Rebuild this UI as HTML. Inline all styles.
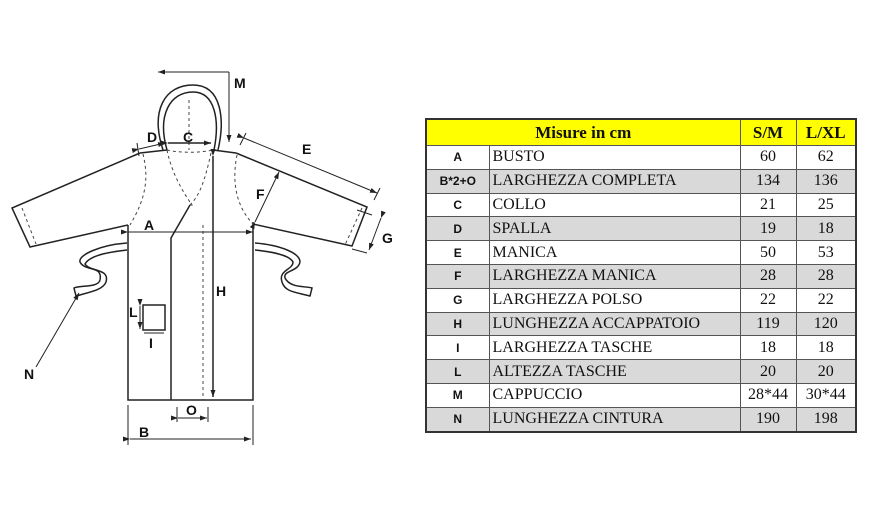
<!DOCTYPE html>
<html><head><meta charset="utf-8"><style>
body{margin:0;background:#fff;width:870px;height:524px;position:relative;overflow:hidden}
svg{position:absolute;left:0;top:0}
table{position:absolute;left:425px;top:118px;border-collapse:collapse;border:2px solid #333;font-family:"Liberation Serif",serif;font-size:16px;color:#111}
td{border:1px solid #555;height:22.8px;padding:0;line-height:22px}
td.c{text-align:center}
td.k{font-family:"Liberation Sans",sans-serif;font-weight:bold;font-size:12px;text-align:center}
td.n{padding-left:3px}
tr.g td{background:#d9d9d9}
tr.h td{background:#ffff00;font-weight:bold;font-size:17px;height:25px;text-align:center}
</style></head><body>
<svg width="870" height="524" viewBox="0 0 870 524" font-family="Liberation Sans,sans-serif" font-weight="bold" font-size="14">
<defs><marker id="a" markerUnits="userSpaceOnUse" markerWidth="8" markerHeight="8" refX="7" refY="4" orient="auto"><path d="M0,1.5 L7,4 L0,6.5z" fill="#222"/></marker></defs>
<g fill="none" stroke="#222" stroke-width="1.5">
<path d="M163,150 C150,110 165,85 193,85 C222,85 225,120 218,150"/>
<path d="M167,150 C157,115 170,92 193,92 C215,92 220,120 214,150"/>
<path d="M140,153 L167,150 M213,150 L236,153"/>
<path d="M140,153 L12,208 L30,247 L128,225"/>
<path d="M236,153 L367,207 L352,246 L253,224"/>
<path d="M128,225 L128,400 L253,400 L253,222"/>
<path d="M171,400 L171,238 L190,205"/>
<path d="M127,243 C100,245 78,255 80,262 C85,272 103,265 100,280 C98,288 80,285 74,288 L76,296 C90,292 103,290 106,282 C110,268 90,272 85,264 C90,255 110,252 127,250"/>
<path d="M255,243 C280,245 300,253 300,262 C298,272 283,270 285,278 C290,288 305,286 312,288 L310,296 C295,292 285,292 282,282 C278,270 293,270 293,262 C290,256 275,252 255,250"/>
<rect x="143" y="305" width="22" height="25"/>
</g>
<g fill="none" stroke="#444" stroke-width="1" stroke-dasharray="3,3">
<path d="M203,225 L203,400"/>
<path d="M167,150 C172,175 185,195 192,205 L190,205"/>
<path d="M211,153 C205,180 200,195 190,205"/>
<path d="M167,150 C180,153 200,153 213,150"/>
<path d="M143,154 C148,175 148,195 130,225"/>
<path d="M237,155 C232,180 235,205 253,224"/>
<path d="M22,208 L36,244 M362,208 L345,245"/>
<path d="M189,100 L189,150"/>
</g>
<g stroke="#222" stroke-width="1" fill="none">
<path d="M128,232 L253,232" marker-end="url(#a)" marker-start="url(#a)"/>
<path d="M213,156 L213,397" stroke-width="1.5" marker-end="url(#a)" marker-start="url(#a)"/>
<path d="M128,405 L128,445 M253,405 L253,445"/>
<path d="M130,439 L251,439" marker-end="url(#a)" marker-start="url(#a)"/>
<path d="M177,407 L177,422 M208,407 L208,422"/>
<path d="M178,418 L207,418" marker-end="url(#a)" marker-start="url(#a)"/>
<path d="M168,143 L211,143" stroke-width="1.5" marker-end="url(#a)" marker-start="url(#a)"/>
<path d="M139,149 L165,143" marker-end="url(#a)" marker-start="url(#a)"/>
<path d="M137,143 L139,156"/>
<path d="M229,72 L158,72" marker-end="url(#a)"/>
<path d="M229,72 L229,142" marker-end="url(#a)"/>
<path d="M244,138 L377,193" marker-end="url(#a)" marker-start="url(#a)"/>
<path d="M240,145 L246,133 M374,200 L380,188"/>
<path d="M255,222 L279,172" marker-end="url(#a)" marker-start="url(#a)"/>
<path d="M357,210 L372,215 M352,249 L367,253"/>
<path d="M381,218 L369,250" marker-end="url(#a)" marker-start="url(#a)"/>
<path d="M36,367 L79,293" marker-end="url(#a)"/>
<path d="M140,306 L140,329" marker-end="url(#a)" marker-start="url(#a)"/>
<path d="M144,333 L164,333"/>
</g>
<g fill="#111">
<text x="144" y="230">A</text><text x="216" y="296">H</text><text x="139" y="437">B</text>
<text x="186" y="415">O</text><text x="183" y="142">C</text><text x="147" y="142">D</text>
<text x="234" y="88">M</text><text x="302" y="154">E</text><text x="256" y="199">F</text>
<text x="382" y="243">G</text><text x="24" y="379">N</text><text x="129" y="317">L</text><text x="149" y="348">I</text>
</g>
</svg>
<table>
<colgroup><col style="width:63px"><col style="width:251px"><col style="width:56px"><col style="width:60px"></colgroup>
<tr class="h"><td colspan="2">Misure in cm</td><td>S/M</td><td>L/XL</td></tr>
<tr><td class="k">A</td><td class="n">BUSTO</td><td class="c">60</td><td class="c">62</td></tr>
<tr class="g"><td class="k">B*2+O</td><td class="n">LARGHEZZA COMPLETA</td><td class="c">134</td><td class="c">136</td></tr>
<tr><td class="k">C</td><td class="n">COLLO</td><td class="c">21</td><td class="c">25</td></tr>
<tr class="g"><td class="k">D</td><td class="n">SPALLA</td><td class="c">19</td><td class="c">18</td></tr>
<tr><td class="k">E</td><td class="n">MANICA</td><td class="c">50</td><td class="c">53</td></tr>
<tr class="g"><td class="k">F</td><td class="n">LARGHEZZA MANICA</td><td class="c">28</td><td class="c">28</td></tr>
<tr><td class="k">G</td><td class="n">LARGHEZZA POLSO</td><td class="c">22</td><td class="c">22</td></tr>
<tr class="g"><td class="k">H</td><td class="n">LUNGHEZZA ACCAPPATOIO</td><td class="c">119</td><td class="c">120</td></tr>
<tr><td class="k">I</td><td class="n">LARGHEZZA TASCHE</td><td class="c">18</td><td class="c">18</td></tr>
<tr class="g"><td class="k">L</td><td class="n">ALTEZZA TASCHE</td><td class="c">20</td><td class="c">20</td></tr>
<tr><td class="k">M</td><td class="n">CAPPUCCIO</td><td class="c">28*44</td><td class="c">30*44</td></tr>
<tr class="g"><td class="k">N</td><td class="n">LUNGHEZZA CINTURA</td><td class="c">190</td><td class="c">198</td></tr>
</table>
</body></html>
